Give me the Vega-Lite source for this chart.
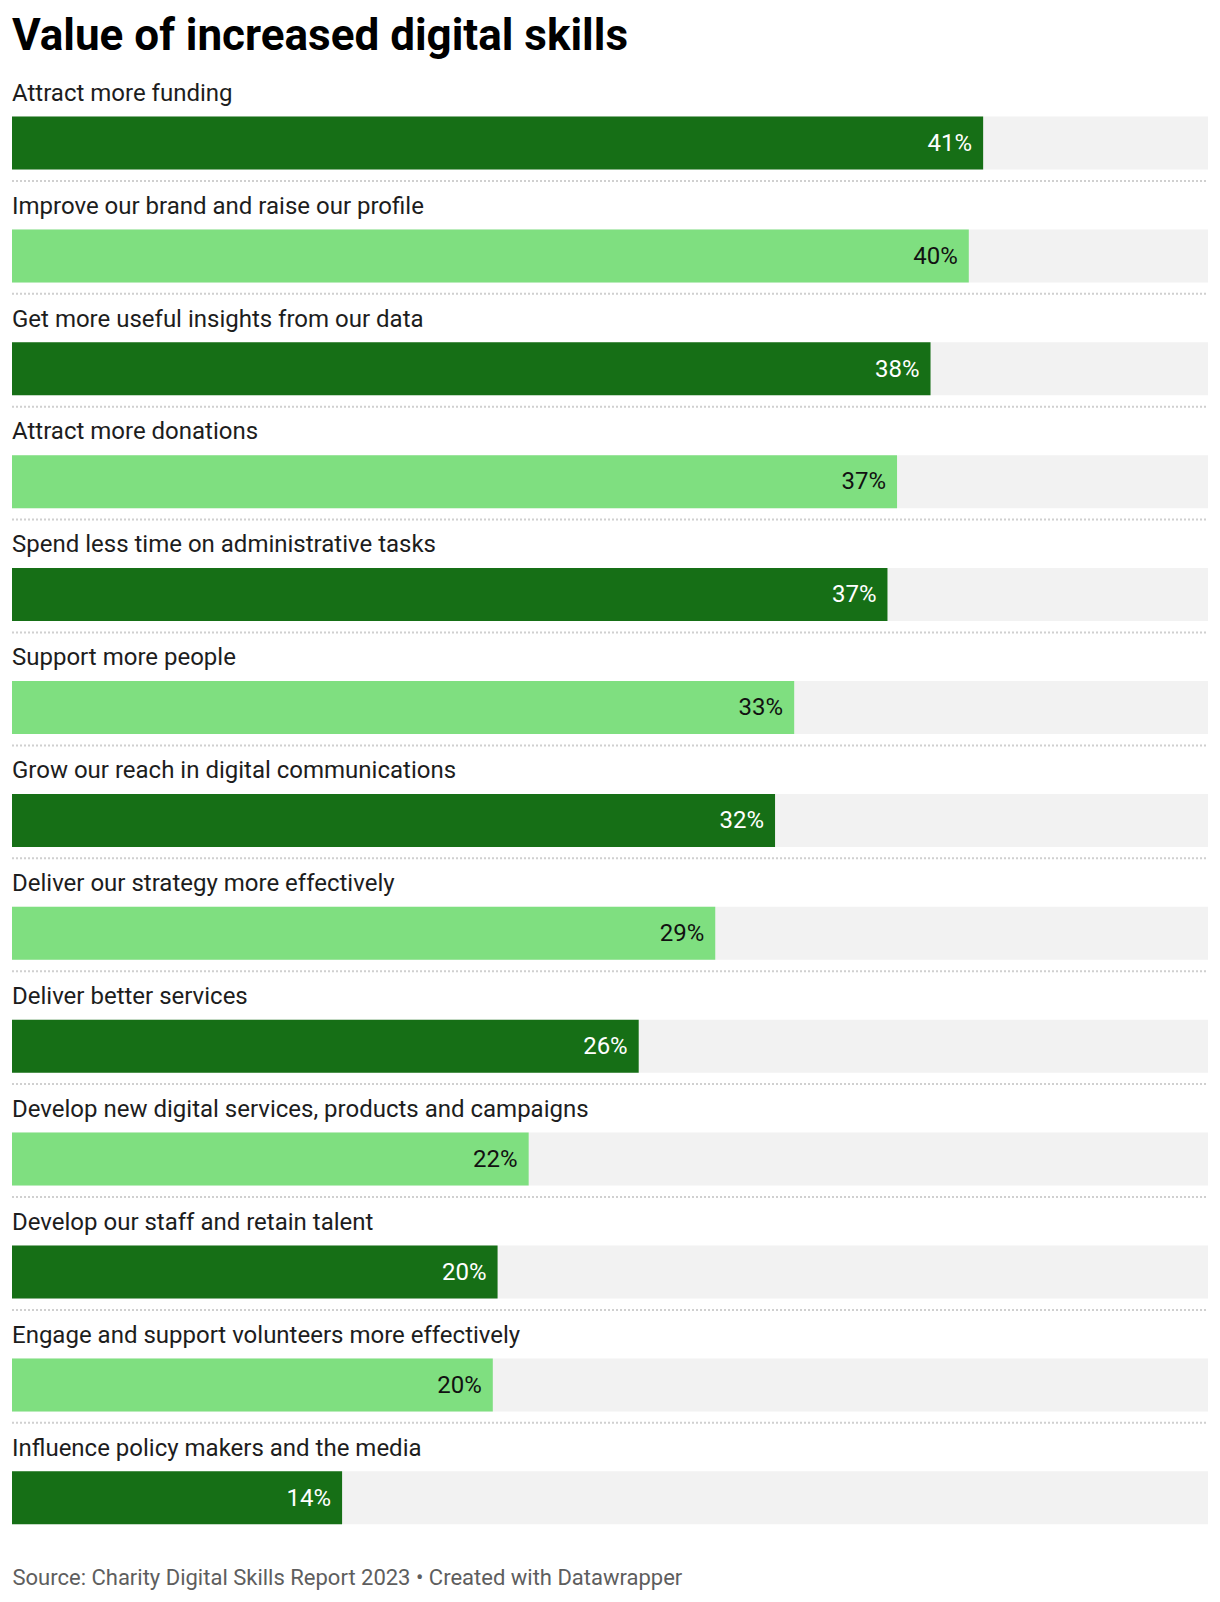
{
  "$schema": "https://vega.github.io/schema/vega-lite/v6.json",
  "width": 1196,
  "height": 1467.7,
  "autosize": {"type": "none"},
  "padding": {"left": 12, "top": 68, "right": 12, "bottom": 66.3},
  "background": "white",
  "title": {
    "text": "Value of increased digital skills",
    "anchor": "start",
    "frame": "group",
    "font": "Roboto",
    "fontSize": 44,
    "fontWeight": "bold",
    "color": "#000000",
    "baseline": "alphabetic",
    "offset": -25.5
  },
  "config": {
    "view": {"stroke": null},
    "font": "Roboto",
    "axis": {"labels": false, "ticks": false, "domain": false, "grid": false}
  },
  "data": {
    "values": [
      {"label": "Attract more funding", "value": 0.406},
      {"label": "Improve our brand and raise our profile", "value": 0.400},
      {"label": "Get more useful insights from our data", "value": 0.384},
      {"label": "Attract more donations", "value": 0.370},
      {"label": "Spend less time on administrative tasks", "value": 0.366},
      {"label": "Support more people", "value": 0.327},
      {"label": "Grow our reach in digital communications", "value": 0.319},
      {"label": "Deliver our strategy more effectively", "value": 0.294},
      {"label": "Deliver better services", "value": 0.262},
      {"label": "Develop new digital services, products and campaigns", "value": 0.216},
      {"label": "Develop our staff and retain talent", "value": 0.203},
      {"label": "Engage and support volunteers more effectively", "value": 0.201},
      {"label": "Influence policy makers and the media", "value": 0.138}
    ]
  },
  "encoding": {
    "y": {"field": "label", "type": "nominal", "sort": null, "axis": null,
          "scale": {"paddingInner": 0, "paddingOuter": 0}}
  },
  "layer": [
    {
      "mark": {"type": "bar", "color": "#f2f2f2", "height": 53, "yOffset": 18.55},
      "encoding": {
        "x": {"datum": 0.5, "type": "quantitative", "scale": {"domain": [0, 0.5], "nice": false, "zero": true},
              "title": "Source: Charity Digital Skills Report 2023 • Created with Datawrapper",
              "axis": {"orient": "bottom", "titleFont": "Roboto", "titleFontSize": 22, "titleFontWeight": "normal",
                       "titleColor": "#5e5e5e", "titleAlign": "left", "titleAnchor": "start", "titleBaseline": "alphabetic",
                       "titleX": 0, "titleY": 48.6}}
      }
    },
    {
      "mark": {"type": "bar", "height": 53, "yOffset": 18.55},
      "encoding": {
        "x": {"field": "value", "type": "quantitative",
              "title": "Source: Charity Digital Skills Report 2023 • Created with Datawrapper"},
        "color": {"field": "label", "type": "nominal", "legend": null,
                  "scale": {"type": "ordinal",
                            "domain": ["Attract more funding", "Improve our brand and raise our profile", "Get more useful insights from our data", "Attract more donations", "Spend less time on administrative tasks", "Support more people", "Grow our reach in digital communications", "Deliver our strategy more effectively", "Deliver better services", "Develop new digital services, products and campaigns", "Develop our staff and retain talent", "Engage and support volunteers more effectively", "Influence policy makers and the media"],
                            "range": ["#166f16", "#7fdf80"]}}
      }
    },
    {
      "mark": {"type": "text", "align": "right", "baseline": "alphabetic", "dx": -11, "yOffset": 26.25,
               "font": "Roboto", "fontSize": 24},
      "encoding": {
        "x": {"field": "value", "type": "quantitative",
              "title": "Source: Charity Digital Skills Report 2023 • Created with Datawrapper"},
        "text": {"field": "value", "type": "quantitative", "format": ".0%"},
        "color": {"field": "label", "type": "nominal", "legend": null,
                  "scale": {"type": "ordinal",
                            "domain": ["Attract more funding", "Improve our brand and raise our profile", "Get more useful insights from our data", "Attract more donations", "Spend less time on administrative tasks", "Support more people", "Grow our reach in digital communications", "Deliver our strategy more effectively", "Deliver better services", "Develop new digital services, products and campaigns", "Develop our staff and retain talent", "Engage and support volunteers more effectively", "Influence policy makers and the media"],
                            "range": ["#ffffff", "#111111"]}}
      }
    },
    {
      "mark": {"type": "text", "align": "left", "baseline": "alphabetic", "yOffset": -23.75,
               "font": "Roboto", "fontSize": 24, "color": "#1d1d1d"},
      "encoding": {
        "x": {"datum": 0, "type": "quantitative",
              "title": "Source: Charity Digital Skills Report 2023 • Created with Datawrapper"},
        "text": {"field": "label", "type": "nominal"}
      }
    },
    {
      "transform": [{"filter": "datum.label !== 'Influence policy makers and the media'"}],
      "mark": {"type": "rule", "color": "#d0d0d0", "strokeWidth": 2, "strokeDash": [2, 2], "yOffset": 56.45},
      "encoding": {
        "x": {"datum": 0, "type": "quantitative",
              "title": "Source: Charity Digital Skills Report 2023 • Created with Datawrapper"},
        "x2": {"datum": 0.5}
      }
    }
  ],
  "resolve": {"scale": {"color": "independent"}}
}
